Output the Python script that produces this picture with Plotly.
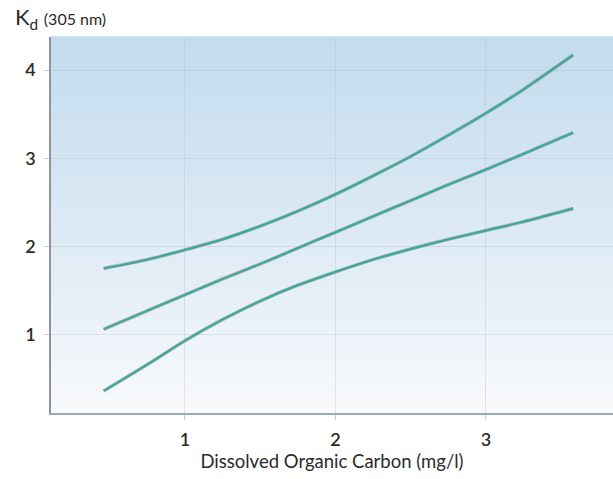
import plotly.graph_objects as go

# Data
doc_x = [0.46, 0.75, 1.0, 1.25, 1.5, 1.75, 2.0, 2.25, 2.5, 2.75, 3.0, 3.25, 3.58]
kd_upper = [1.75, 1.85, 1.96, 2.08, 2.23, 2.40, 2.59, 2.80, 3.02, 3.26, 3.51, 3.78, 4.17]
kd_fit = [1.06, 1.27, 1.45, 1.63, 1.80, 1.98, 2.16, 2.34, 2.52, 2.70, 2.87, 3.05, 3.29]
kd_lower = [0.36, 0.66, 0.93, 1.17, 1.38, 1.56, 1.71, 1.85, 1.97, 2.08, 2.18, 2.28, 2.43]

x_ticks = [1, 2, 3]
x_ticklabels = ["1", "2", "3"]
y_ticks = [1, 2, 3, 4]
y_ticklabels = ["1", "2", "3", "4"]

FONT = "Lato, 'Open Sans', sans-serif"
LINE = "rgb(62,168,163)"
SHADOW = "rgba(170,140,110,0.5)"
TXT = "#2b2b2b"

fig = go.Figure()

for ys in (kd_upper, kd_fit, kd_lower):
    fig.add_trace(go.Scatter(x=doc_x, y=ys, mode="lines",
                             line=dict(color=SHADOW, width=3.6, shape="spline", smoothing=0.8),
                             hoverinfo="skip", showlegend=False))
    fig.add_trace(go.Scatter(x=doc_x, y=ys, mode="lines",
                             line=dict(color=LINE, width=2.4, shape="spline", smoothing=0.8),
                             showlegend=False))

# vertical gradient background (top light blue -> bottom near white)
top = (194, 219, 238)
bot = (249, 250, 252)
n = 80
shapes = []
for i in range(n):
    t0 = i / n
    t1 = (i + 1) / n
    f = t0 ** 0.9
    c = tuple(round(bot[k] + (top[k] - bot[k]) * f) for k in range(3))
    shapes.append(dict(type="rect", xref="x domain", yref="y domain",
                       x0=0, x1=1, y0=t0, y1=t1 + 0.002,
                       fillcolor="rgb(%d,%d,%d)" % c, line=dict(width=0),
                       layer="below"))

fig.update_layout(
    width=613, height=479,
    margin=dict(l=51, r=0, t=37, b=66),
    paper_bgcolor="white",
    plot_bgcolor="white",
    shapes=shapes,
    font=dict(family=FONT, color=TXT),
    xaxis=dict(range=[0.11, 3.845], tickvals=x_ticks, ticktext=x_ticklabels,
               showline=True, linecolor="#9aa9b8", linewidth=1.5,
               ticks="outside", ticklen=5, tickcolor="#c8ced6",
               ticklabelstandoff=5,
               showgrid=True, gridcolor="rgba(175,190,205,0.35)", gridwidth=1,
               zeroline=False, tickfont=dict(size=18, color=TXT, weight=600),
               title=dict(text="Dissolved Organic Carbon (mg/l)",
                          font=dict(size=18.5, color=TXT), standoff=6)),
    yaxis=dict(range=[0.11, 4.375], tickvals=y_ticks, ticktext=y_ticklabels,
               showline=True, linecolor="#8d93a3", linewidth=1.5,
               ticks="outside", ticklen=6, tickcolor="#c8ced6",
               ticklabelstandoff=4,
               showgrid=True, gridcolor="rgba(175,190,205,0.35)", gridwidth=1,
               zeroline=False, tickfont=dict(size=18, color=TXT, weight=600)),
    annotations=[dict(text="K<sub>d</sub> <span style='font-size:16px'>(305 nm)</span>",
                      xref="paper", yref="paper", x=-0.068, y=1.0,
                      xanchor="left", yanchor="bottom", yshift=2,
                      showarrow=False, font=dict(size=22, color=TXT))],
)

fig.write_html("out.html")
